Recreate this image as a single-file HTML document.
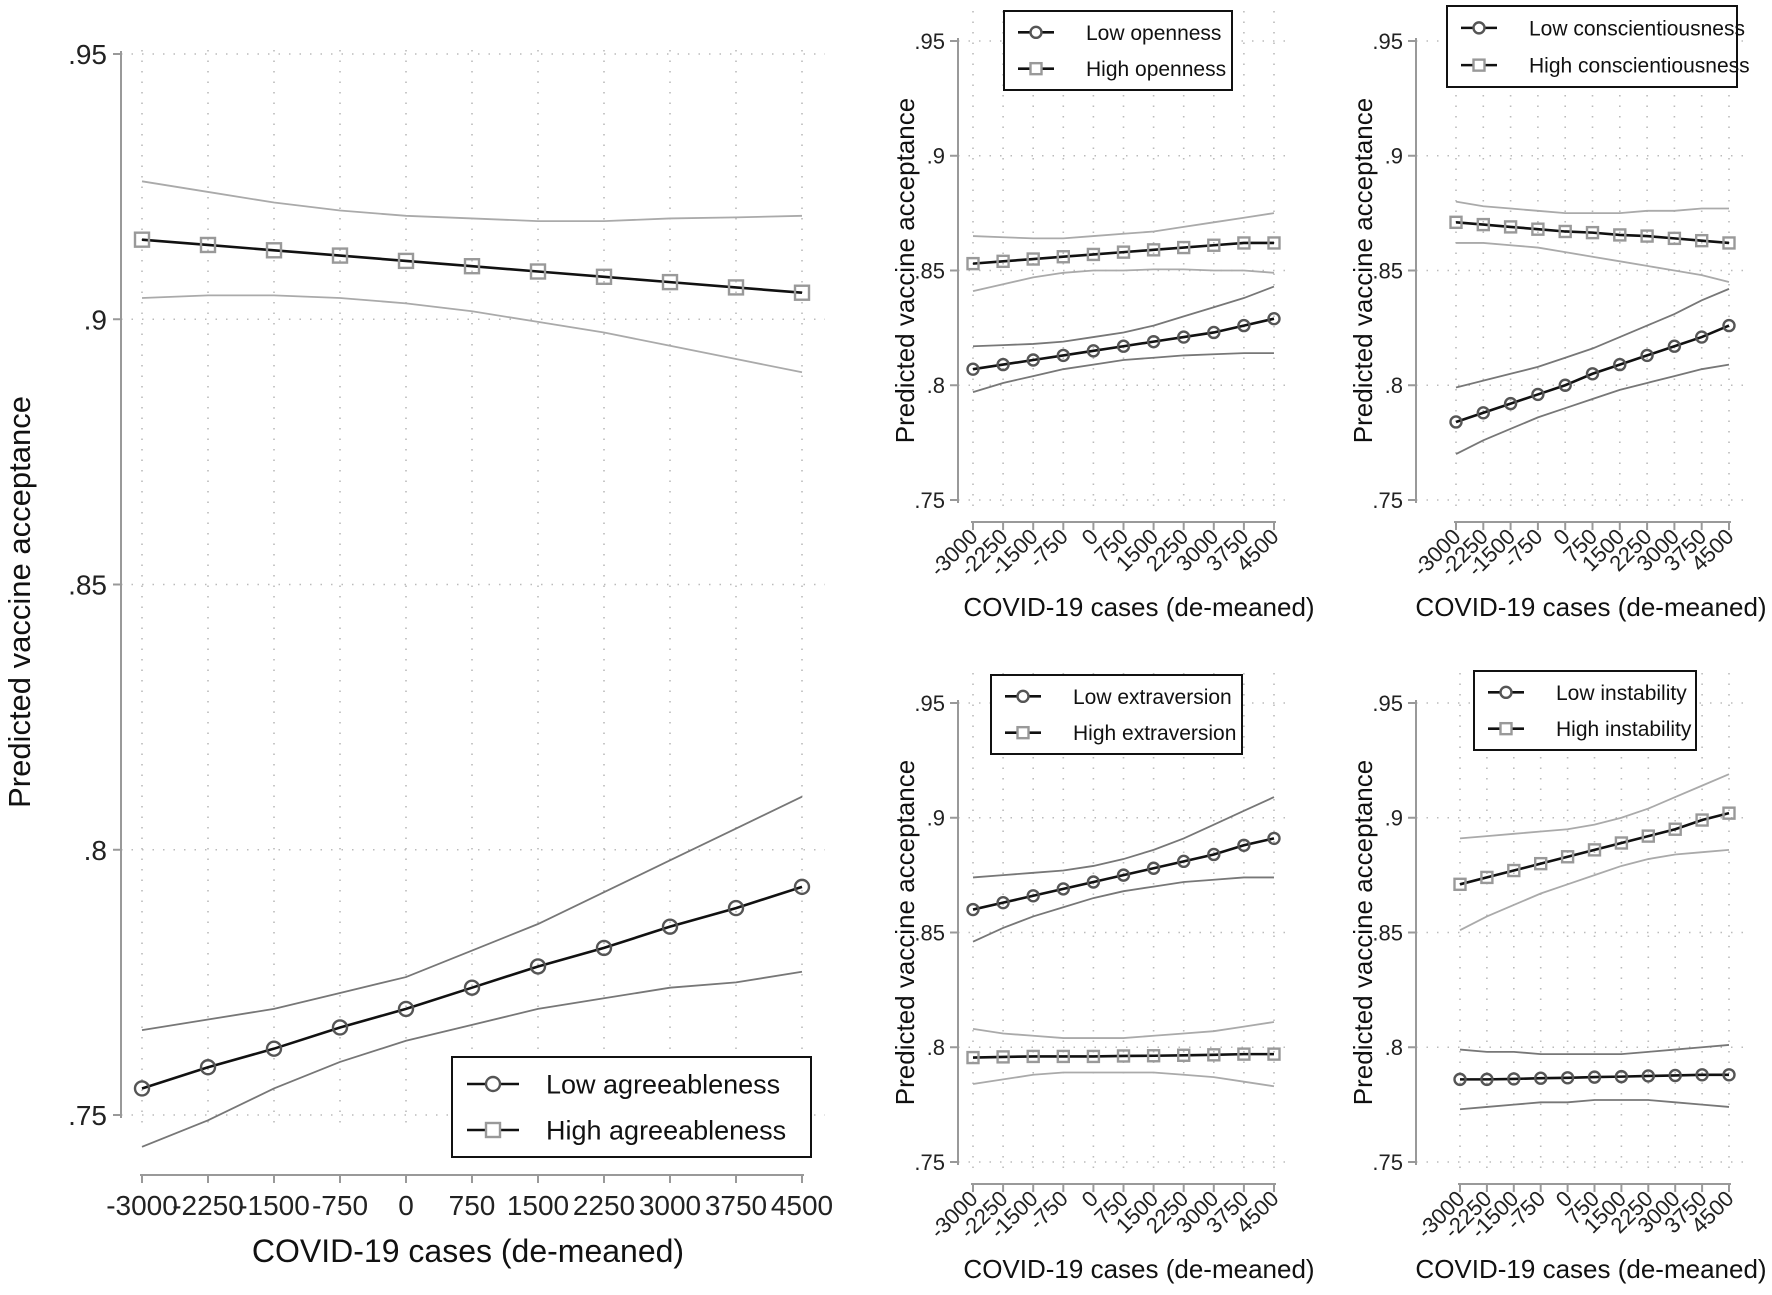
<!DOCTYPE html>
<html><head><meta charset="utf-8"><style>
html,body{margin:0;padding:0;background:#fff;}
svg{display:block;font-family:"Liberation Sans",sans-serif;}
</style></head><body>
<svg id="fig" width="1772" height="1295" viewBox="0 0 1772 1295" xmlns="http://www.w3.org/2000/svg"></svg>
<script>
const xCategories=[-3000,-2250,-1500,-750,0,750,1500,2250,3000,3750,4500];
const xTickLabels=["-3000","-2250","-1500","-750","0","750","1500","2250","3000","3750","4500"];
const yTicks=[0.75,0.8,0.85,0.9,0.95];
const yTickLabels=[".75",".8",".85",".9",".95"];

const agrLow=[.755,.759,.7625,.7665,.770,.774,.778,.7815,.7855,.789,.793];
const agrLowUp=[.766,.768,.770,.773,.776,.781,.786,.792,.798,.804,.810];
const agrLowLo=[.744,.749,.755,.760,.764,.767,.770,.772,.774,.775,.777];
const agrHigh=[.915,.914,.913,.912,.911,.910,.909,.908,.907,.906,.905];
const agrHighUp=[.926,.924,.922,.9205,.9195,.919,.9185,.9185,.919,.9192,.9195];
const agrHighLo=[.904,.9045,.9045,.904,.903,.9015,.8995,.8975,.895,.8925,.890];

const opnLow=[.807,.809,.811,.813,.815,.817,.819,.821,.823,.826,.829];
const opnLowUp=[.817,.8175,.818,.819,.821,.823,.826,.830,.834,.838,.843];
const opnLowLo=[.797,.801,.804,.807,.809,.811,.812,.813,.8135,.814,.814];
const opnHigh=[.853,.854,.855,.856,.857,.858,.859,.860,.861,.862,.862];
const opnHighUp=[.865,.8645,.864,.864,.865,.866,.867,.869,.871,.873,.875];
const opnHighLo=[.841,.844,.847,.849,.850,.850,.8505,.8505,.850,.850,.849];

const conLow=[.784,.788,.792,.796,.800,.805,.809,.813,.817,.821,.826];
const conLowUp=[.799,.802,.805,.808,.812,.816,.821,.826,.831,.837,.842];
const conLowLo=[.770,.776,.781,.786,.790,.794,.798,.801,.804,.807,.809];
const conHigh=[.871,.870,.869,.868,.867,.8665,.8655,.865,.864,.863,.862];
const conHighUp=[.880,.878,.877,.876,.875,.875,.875,.876,.876,.877,.877];
const conHighLo=[.862,.862,.861,.860,.858,.856,.854,.852,.850,.848,.845];

const extLow=[.860,.863,.866,.869,.872,.875,.878,.881,.884,.888,.891];
const extLowUp=[.874,.875,.876,.877,.879,.882,.886,.891,.897,.903,.909];
const extLowLo=[.846,.852,.857,.861,.865,.868,.870,.872,.873,.874,.874];
const extHigh=[.7955,.7958,.796,.796,.796,.7962,.7963,.7965,.7967,.797,.797];
const extHighUp=[.808,.806,.805,.804,.804,.804,.805,.806,.807,.809,.811];
const extHighLo=[.784,.786,.788,.789,.789,.789,.789,.788,.787,.785,.783];

const insLow=[.786,.786,.7862,.7865,.7867,.787,.7872,.7875,.7877,.788,.788];
const insLowUp=[.799,.798,.798,.797,.797,.797,.797,.798,.799,.800,.801];
const insLowLo=[.773,.774,.775,.776,.776,.777,.777,.777,.776,.775,.774];
const insHigh=[.871,.874,.877,.880,.883,.886,.889,.892,.895,.899,.902];
const insHighUp=[.891,.892,.893,.894,.895,.897,.900,.904,.909,.914,.919];
const insHighLo=[.851,.857,.862,.867,.871,.875,.879,.882,.884,.885,.886];

const NS="http://www.w3.org/2000/svg";
const svg=document.getElementById('fig');
function mk(tag,attrs,parent){const e=document.createElementNS(NS,tag);for(const k in attrs)e.setAttribute(k,attrs[k]);(parent||svg).appendChild(e);return e;}

function panel(cfg){
  const g=mk('g',{});
  
  
  const sx=v=>cfg.x0+(v-xCategories[0])/(xCategories[xCategories.length-1]-xCategories[0])*(cfg.x1-cfg.x0);
  const sy=v=>cfg.yb+(v-0.75)/(0.95-0.75)*(cfg.yt-cfg.yb);
  yTicks.forEach(t=>{const l=mk('line',{x1:cfg.ax,x2:cfg.gr,y1:sy(t),y2:sy(t),stroke:'#bbb','stroke-width':1.6,'stroke-dasharray':'1.5 9'},g);
    });
  xCategories.forEach(c=>{const l=mk('line',{x1:sx(c),x2:sx(c),y1:cfg.gt,y2:cfg.yb+12,stroke:'#bbb','stroke-width':1.6,'stroke-dasharray':'1.5 9'},g);
    });
  const ya=mk('line',{x1:cfg.ax,x2:cfg.ax,y1:cfg.yt-3,y2:cfg.yb+3,stroke:'#999','stroke-width':2},g);
  
  yTicks.forEach((t,i)=>{mk('line',{x1:cfg.ax-8,x2:cfg.ax,y1:sy(t),y2:sy(t),stroke:'#999','stroke-width':2},g);
    const tx=mk('text',{x:cfg.ax-cfg.tgap,y:sy(t)+cfg.tf*0.36,'text-anchor':'end','font-size':cfg.tf,fill:'#222'},g);
    tx.textContent=yTickLabels[i];});
  const xa=mk('line',{x1:sx(xCategories[0])-2,x2:sx(xCategories[xCategories.length-1])+2,y1:cfg.xl,y2:cfg.xl,stroke:'#999','stroke-width':2},g);
  
  xCategories.forEach((c,i)=>{mk('line',{x1:sx(c),x2:sx(c),y1:cfg.xl,y2:cfg.xl+8,stroke:'#999','stroke-width':2},g);
    let tx;
    if(cfg.rot){tx=mk('text',{x:sx(c)+6,y:cfg.xl+16,'text-anchor':'end','font-size':cfg.tf,fill:'#222',transform:`rotate(-45 ${sx(c)+6} ${cfg.xl+16})`},g);}
    else{tx=mk('text',{x:sx(c),y:cfg.xl+40,'text-anchor':'middle','font-size':cfg.tf,fill:'#222'},g);}
    tx.textContent=xTickLabels[i];});
  const xt=mk('text',{x:cfg.xtX,y:cfg.xtY,'text-anchor':'middle','font-size':cfg.ttf,fill:'#111'},g);
  xt.textContent='COVID-19 cases (de-meaned)';
  const yt=mk('text',{x:cfg.ytX,y:cfg.ytY,'text-anchor':'middle','font-size':cfg.ytf,fill:'#111',transform:`rotate(-90 ${cfg.ytX} ${cfg.ytY})`},g);
  yt.textContent='Predicted vaccine acceptance';
  const pts=a=>a.map((v,i)=>sx(xCategories[i])+','+sy(v)).join(' ');
  [[cfg.low[1],'#777','ci-upper-low'],[cfg.low[2],'#777','ci-lower-low'],[cfg.high[1],'#aaa','ci-upper-high'],[cfg.high[2],'#aaa','ci-lower-high']].forEach(([a,c,n])=>{
    const p=mk('polyline',{points:pts(a),fill:'none',stroke:c,'stroke-width':1.8},g);});
  const ms=cfg.ms;
  [[cfg.high[0],'sq','high-series'],[cfg.low[0],'ci','low-series']].forEach(([a,type,n])=>{
    const p=mk('polyline',{points:pts(a),fill:'none',stroke:'#111','stroke-width':2.6},g);
    a.forEach((v,i)=>{let m;const x=sx(xCategories[i]),y=sy(v);
      if(type==='sq')m=mk('rect',{x:x-ms,y:y-ms,width:2*ms,height:2*ms,fill:'none',stroke:'#999','stroke-width':2.4},g);
      else m=mk('circle',{cx:x,cy:y,r:ms,fill:'none',stroke:'#555','stroke-width':2.4},g);
      });
  });
  const L=cfg.leg;const lg=mk('g',{},g);
  
  mk('rect',{x:L[0],y:L[1],width:L[2]-L[0],height:L[3]-L[1],fill:'#fff',stroke:'#111','stroke-width':2},lg);
  const h=(L[3]-L[1]);
  [[cfg.labels[0],'ci',L[1]+h*0.27],[cfg.labels[1],'sq',L[1]+h*0.73]].forEach(([txt,type,y])=>{
    const e=mk('g',{},lg);
    const lx=L[0]+cfg.lpad, lw=cfg.lw;
    mk('line',{x1:lx,x2:lx+lw,y1:y,y2:y,stroke:'#111','stroke-width':2.6},e);
    if(type==='sq')mk('rect',{x:lx+lw/2-ms,y:y-ms,width:2*ms,height:2*ms,fill:'#fff',stroke:'#999','stroke-width':2.4},e);
    else mk('circle',{cx:lx+lw/2,cy:y,r:ms,fill:'#fff',stroke:'#555','stroke-width':2.4},e);
    const t=mk('text',{x:lx+lw+cfg.lgap,y:y+cfg.lf*0.36,'font-size':cfg.lf,fill:'#111'},e);t.textContent=txt;
  });
}

panel({name:'agreeableness-panel',ax:121,gr:825,gt:50,x0:142,x1:802,yt:54,yb:1115,xl:1175,tf:28,tgap:14,ttf:32,ytf:31,rot:false,
  xtX:468,xtY:1262,ytX:30,ytY:602,ms:7,low:[agrLow,agrLowUp,agrLowLo],high:[agrHigh,agrHighUp,agrHighLo],
  leg:[452,1057,811,1157],labels:['Low agreeableness','High agreeableness'],lpad:15,lw:52,lgap:27,lf:27});
const smalls=[
 {name:'openness-panel',ax:958,gr:1290,x0:973,x1:1274,top:true,xtX:1139,low:[opnLow,opnLowUp,opnLowLo],high:[opnHigh,opnHighUp,opnHighLo],leg:[1004,11,1232,90],labels:['Low openness','High openness'],ytX:914},
 {name:'conscientiousness-panel',ax:1416,gr:1745,x0:1456,x1:1729,top:true,xtX:1591,low:[conLow,conLowUp,conLowLo],high:[conHigh,conHighUp,conHighLo],leg:[1447,6,1737,87],labels:['Low conscientiousness','High conscientiousness'],ytX:1372},
 {name:'extraversion-panel',ax:958,gr:1290,x0:973,x1:1274,top:false,xtX:1139,low:[extLow,extLowUp,extLowLo],high:[extHigh,extHighUp,extHighLo],leg:[991,675,1242,754],labels:['Low extraversion','High extraversion'],ytX:914},
 {name:'instability-panel',ax:1416,gr:1745,x0:1460,x1:1729,top:false,xtX:1591,low:[insLow,insLowUp,insLowLo],high:[insHigh,insHighUp,insHighLo],leg:[1474,671,1696,750],labels:['Low instability','High instability'],ytX:1372}
];
smalls.forEach(s=>{
  const yt=s.top?41:703, yb=s.top?500:1162;
  panel({name:s.name,ax:s.ax,gr:s.gr,gt:yt-30,x0:s.x0,x1:s.x1,yt:yt,yb:yb,xl:s.top?522:1184,tf:22,tgap:13,ttf:26,ytf:26,rot:true,
    xtX:s.xtX,xtY:s.top?616:1278,ytX:s.ytX,ytY:(yt+yb)/2,ms:5.5,low:s.low,high:s.high,leg:s.leg,labels:s.labels,
    lpad:14,lw:36,lgap:32,lf:21});
});
</script>
</body></html>
